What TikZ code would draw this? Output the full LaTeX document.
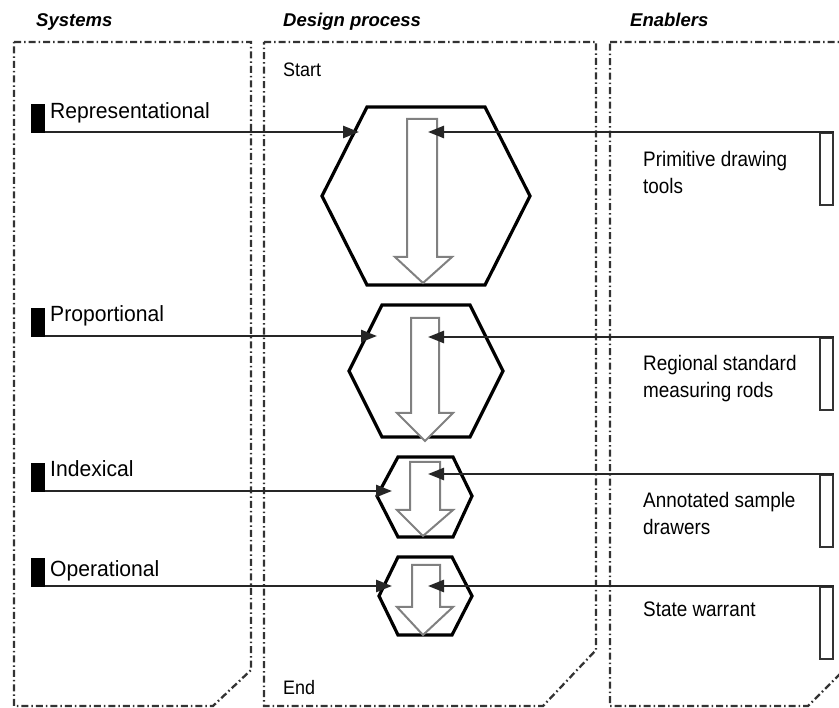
\documentclass[tikz,border=0pt]{standalone}
\usepackage{fontspec}
\setmainfont{Liberation Sans}
\usetikzlibrary{arrows.meta}
\begin{document}
\begin{tikzpicture}[x=1pt,y=-1pt,
  panel/.style={draw=black!80, line width=2.3pt, dash pattern=on 7pt off 3pt on 1.5pt off 3pt},
  head/.style={font=\fontsize{18.5}{20}\selectfont\bfseries\itshape, anchor=base west, inner sep=0pt},
  plain/.style={font=\fontsize{19.5}{22}\selectfont, anchor=base west, inner sep=0pt, xscale=0.92},
  syslabel/.style={font=\fontsize{22}{24}\selectfont, anchor=base west, inner sep=0pt, xscale=0.96},
  marker/.style={fill=black, draw=none, minimum width=14pt, minimum height=29pt, inner sep=0pt, anchor=south west},
  enabler/.style={draw=black!80, line width=1.8pt, fill=white, minimum width=13pt, minimum height=72pt, inner sep=0pt, anchor=north west},
  entext/.style={font=\fontsize{21}{27}\selectfont, anchor=base west, inner sep=0pt, align=left, xscale=0.9},
  link/.style={draw=black!85, line width=2.5pt, -{Triangle[length=16pt,width=12pt]}},
  hexa/.style={draw=black, line width=3.2pt, line join=miter},
  flow/.style={draw=black!50, line width=2pt, fill=white, line join=miter},
]
\path[use as bounding box] (0,0) rectangle (839,708);
\clip (0,0) rectangle (839,708);

% three swim lanes with a folded lower-right corner
\draw[panel] (14,42) -- (251,42) -- (251,670) -- (213,706) -- (14,706) -- cycle;
\draw[panel] (264,42) -- (596,42) -- (596,650) -- (543,706) -- (264,706) -- cycle;
\draw[panel] (610,42) -- (846,42) -- (846,668) -- (808,706) -- (610,706) -- cycle;

% lane headings
\node[head] (hsys) at (36,27) {Systems};
\node[head] (hdes) at (283,27) {Design process};
\node[head] (hena) at (630,27) {Enablers};

\node[plain] (start) at (283,77) {Start};
\node[plain] (end) at (283,694) {End};

% design stages (hexagons)
\draw[hexa] (367,107) -- (485,107) -- (530,196) -- (485,285) -- (367,285) -- (322,196) -- cycle;
\draw[hexa] (382,305) -- (470,305) -- (503,371) -- (470,437) -- (382,437) -- (349,371) -- cycle;
\draw[hexa] (398,457) -- (453,457) -- (472,496) -- (453,537) -- (398,537) -- (377,496) -- cycle;
\draw[hexa] (398,557) -- (452,557) -- (472,596) -- (452,635) -- (398,635) -- (379,596) -- cycle;

% hollow flow arrows inside the stages
\draw[flow] (407,119) -- (437,119) -- (437,257) -- (452,257) -- (423,283) -- (395,257) -- (407,257) -- cycle;
\draw[flow] (411,318) -- (439,318) -- (439,413) -- (453,413) -- (425,441) -- (397,413) -- (411,413) -- cycle;
\draw[flow] (410,462) -- (440,462) -- (440,510) -- (453,510) -- (423,536) -- (397,510) -- (410,510) -- cycle;
\draw[flow] (412,565) -- (440,565) -- (440,607) -- (453,607) -- (423,635) -- (397,607) -- (412,607) -- cycle;

% arrow end points on the stages
\coordinate (h1in) at (359,132);  \coordinate (h1out) at (428,132);
\coordinate (h2in) at (377,336);  \coordinate (h2out) at (428,337);
\coordinate (h3in) at (392,491);  \coordinate (h3out) at (428,474);
\coordinate (h4in) at (392,586);  \coordinate (h4out) at (428,586);

% systems
\node[marker] (s1) at (31,133) {};
\node[marker] (s2) at (31,337) {};
\node[marker] (s3) at (31,492) {};
\node[marker] (s4) at (31,587) {};
\node[syslabel] (l1) at (50,119) {Representational};
\node[syslabel] (l2) at (50,322) {Proportional};
\node[syslabel] (l3) at (50,477) {Indexical};
\node[syslabel] (l4) at (50,577) {Operational};

% enablers
\node[enabler] (e1) at (819,132) {};
\node[enabler] (e2) at (819,337) {};
\node[enabler] (e3) at (819,474) {};
\node[enabler] (e4) at (819,586) {};
% multi-line labels are placed by the baseline of their last line
\node[entext] (t1) at (643,194) {Primitive drawing\\tools};
\node[entext] (t2) at (643,398) {Regional standard\\measuring rods};
\node[entext] (t3) at (643,535) {Annotated sample\\drawers};
\node[entext] (t4) at (643,617) {State warrant};

% connectors
\draw[link] (s1.south east |- h1in) -- (h1in);
\draw[link] (s2.south east |- h2in) -- (h2in);
\draw[link] (s3.south east |- h3in) -- (h3in);
\draw[link] (s4.south east |- h4in) -- (h4in);
\draw[link] (e1.north east |- h1out) -- (h1out);
\draw[link] (e2.north east |- h2out) -- (h2out);
\draw[link] (e3.north east |- h3out) -- (h3out);
\draw[link] (e4.north east |- h4out) -- (h4out);
\end{tikzpicture}
\end{document}
